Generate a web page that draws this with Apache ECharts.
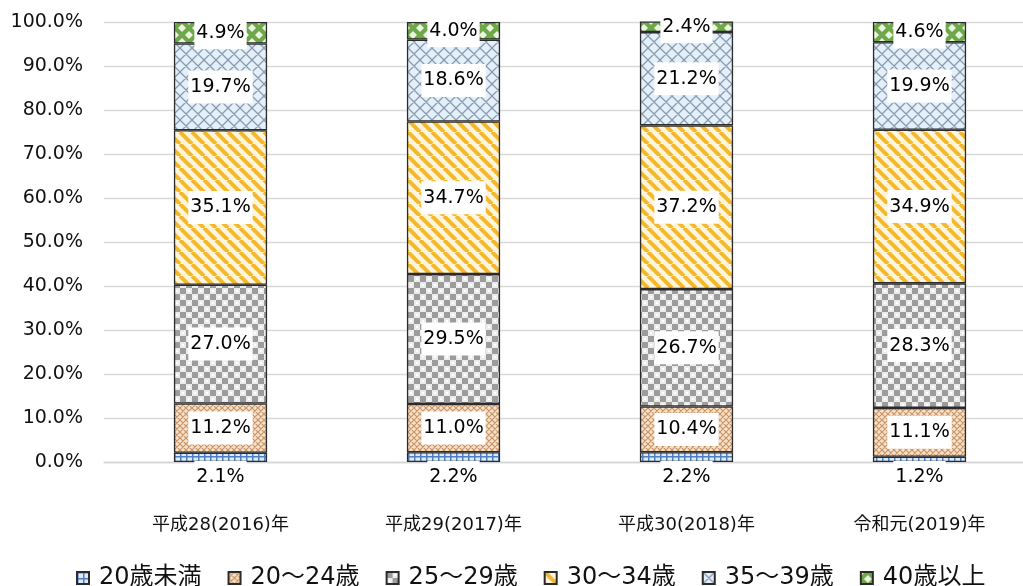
<!DOCTYPE html>
<html>
<head>
<meta charset="utf-8">
<script src="https://cdn.jsdelivr.net/npm/echarts@6/dist/echarts.min.js"></script>
<style>
  html, body { margin: 0; padding: 0; background: #fff; }
  #chart { width: 1023px; height: 586px; }
</style>
</head>
<body>
<div id="chart"></div>
<script>
// Age distribution by year (share of total, %)
const categories = ['平成28(2016)年', '平成29(2017)年', '平成30(2018)年', '令和元(2019)年'];
const seriesNames = ['20歳未満', '20～24歳', '25～29歳', '30～34歳', '35～39歳', '40歳以上'];
const under20 = [2.1, 2.2, 2.2, 1.2];
const age20to24 = [11.2, 11.0, 10.4, 11.1];
const age25to29 = [27.0, 29.5, 26.7, 28.3];
const age30to34 = [35.1, 34.7, 37.2, 34.9];
const age35to39 = [19.7, 18.6, 21.2, 19.9];
const age40plus = [4.9, 4.0, 2.4, 4.6];
const yTicks = { min: 0, max: 100, interval: 10 };

const FONT = '"DejaVu Sans", "Noto Sans CJK JP", sans-serif';

// Repeating fill tiles for each band
function tile(w, h, draw) {
  const c = document.createElement('canvas');
  c.width = w; c.height = h;
  const g = c.getContext('2d');
  draw(g, w, h);
  return { image: c, repeat: 'repeat' };
}

const fills = [
  // small blue grid
  tile(6, 6, (g, w, h) => {
    g.fillStyle = '#dce9f7'; g.fillRect(0, 0, w, h);
    g.fillStyle = '#4f7fc0';
    g.fillRect(0, 0, 1.5, h);
    g.fillRect(0, 0, w, 1.5);
  }),
  // tan lattice
  tile(6, 6, (g, w, h) => {
    g.fillStyle = '#f6e2cc'; g.fillRect(0, 0, w, h);
    g.strokeStyle = '#c99567'; g.lineWidth = 1.2;
    g.beginPath();
    for (const o of [-w, 0, w]) {
      g.moveTo(o, 0); g.lineTo(o + w, h);
      g.moveTo(o + w, 0); g.lineTo(o, h);
    }
    g.stroke();
  }),
  // gray checkerboard
  tile(12, 12, (g, w, h) => {
    g.fillStyle = '#ececec'; g.fillRect(0, 0, w, h);
    g.fillStyle = '#9c9c9c';
    g.fillRect(0, 0, 6, 6); g.fillRect(6, 6, 6, 6);
    g.fillStyle = '#ffffff';
    g.fillRect(8, 2, 2, 2); g.fillRect(2, 8, 2, 2);
  }),
  // yellow diagonal stripes
  tile(12, 12, (g, w, h) => {
    g.fillStyle = '#fff4dc'; g.fillRect(0, 0, w, h);
    g.strokeStyle = '#f2b830'; g.lineWidth = 4;
    g.beginPath();
    for (const o of [-w, 0, w]) { g.moveTo(o, 0); g.lineTo(o + w, h); }
    g.stroke();
  }),
  // light blue crosshatch
  tile(12, 12, (g, w, h) => {
    g.fillStyle = '#e3f0fb'; g.fillRect(0, 0, w, h);
    g.strokeStyle = '#8a9aab'; g.lineWidth = 1.3;
    g.beginPath();
    for (const o of [-w, 0, w]) {
      g.moveTo(o, 0); g.lineTo(o + w, h);
      g.moveTo(o + w, 0); g.lineTo(o, h);
    }
    g.stroke();
  }),
  // green with light spots
  tile(14, 14, (g, w, h) => {
    g.fillStyle = '#6fa84a'; g.fillRect(0, 0, w, h);
    g.fillStyle = '#eaf4e0';
    const spot = (x, y) => {
      g.beginPath();
      g.moveTo(x, y - 4); g.lineTo(x + 4, y); g.lineTo(x, y + 4); g.lineTo(x - 4, y);
      g.closePath(); g.fill();
    };
    spot(0, 0); spot(w, 0); spot(0, h); spot(w, h); spot(w / 2, h / 2);
  })
];

const seriesData = [under20, age20to24, age25to29, age30to34, age35to39, age40plus];

const labelBase = {
  show: true,
  color: '#000',
  fontSize: 19,
  fontFamily: FONT,
  backgroundColor: '#fff',
  padding: [7, 2],
  formatter: p => p.value.toFixed(1) + '%'
};

const series = seriesNames.map((name, i) => ({
  name,
  type: 'bar',
  stack: 'total',
  barWidth: '40%',
  data: seriesData[i],
  itemStyle: { color: fills[i], borderColor: '#2b2b2b', borderWidth: 1.3 },
  label: i === 0
    ? Object.assign({}, labelBase, { position: 'bottom', distance: -1 })
    : Object.assign({}, labelBase, { position: 'inside' }),
  emphasis: { disabled: true }
}));

const chart = echarts.init(document.getElementById('chart'), null, { renderer: 'canvas' });
chart.setOption({
  animation: false,
  backgroundColor: '#fff',
  grid: {
    left: 104, right: -13, top: 22, bottom: 124,
    containLabel: false, outerBoundsMode: 'none'
  },
  xAxis: {
    type: 'category',
    data: categories,
    axisLine: { lineStyle: { color: '#d4d4d4', width: 1.3 } },
    axisTick: { show: false },
    axisLabel: { color: '#111', fontSize: 18, fontFamily: FONT, margin: 54 }
  },
  yAxis: {
    type: 'value',
    min: yTicks.min,
    max: yTicks.max,
    interval: yTicks.interval,
    axisLine: { show: false },
    axisTick: { show: false },
    splitLine: { lineStyle: { color: '#d9d9d9', width: 1.3 } },
    axisLabel: {
      color: '#111', fontSize: 19, fontFamily: FONT, margin: 21,
      formatter: v => v.toFixed(1) + '%'
    }
  },
  legend: {
    data: seriesNames,
    left: 71,
    top: 561,
    padding: 5,
    itemWidth: 12,
    itemHeight: 12,
    itemGap: 26,
    icon: 'rect',
    textStyle: { color: '#111', fontSize: 24, fontFamily: FONT, padding: [0, 0, 0, 5] }
  },
  series
});
</script>
</body>
</html>
